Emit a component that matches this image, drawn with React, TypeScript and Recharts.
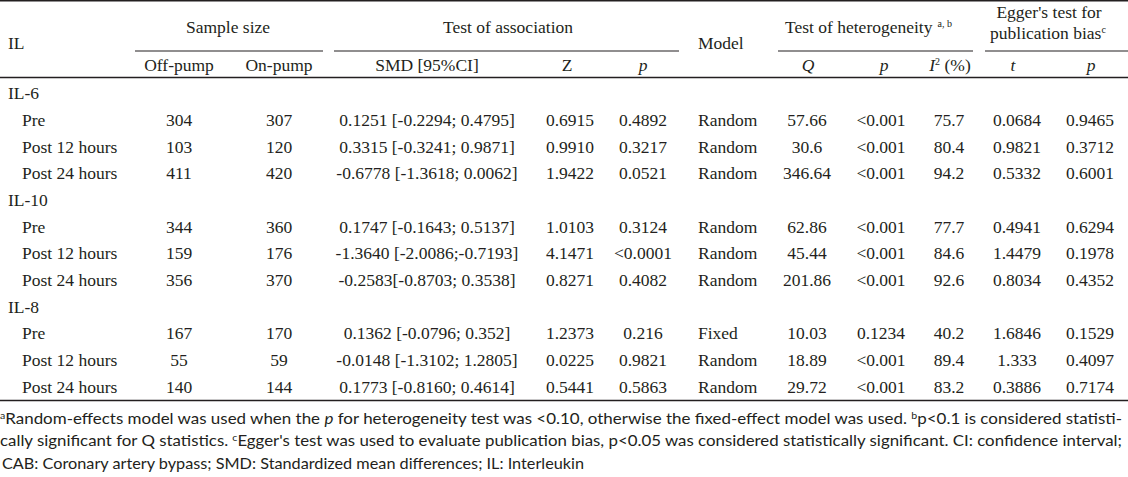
import React from "react";
import { ScatterChart, Scatter, XAxis, YAxis, Customized } from "recharts";

// table rows, top to bottom
const rowLabels = [
  "IL-6", "Pre", "Post 12 hours", "Post 24 hours",
  "IL-10", "Pre", "Post 12 hours", "Post 24 hours",
  "IL-8", "Pre", "Post 12 hours", "Post 24 hours",
];
const groupRows = [true, false, false, false, true, false, false, false, true, false, false, false];

const offPump = ["", "304", "103", "411", "", "344", "159", "356", "", "167", "55", "140"];
const onPump = ["", "307", "120", "420", "", "360", "176", "370", "", "170", "59", "144"];
const smd = [
  "", "0.1251 [-0.2294; 0.4795]", "0.3315 [-0.3241; 0.9871]", "-0.6778 [-1.3618; 0.0062]",
  "", "0.1747 [-0.1643; 0.5137]", "-1.3640 [-2.0086;-0.7193]", "-0.2583[-0.8703; 0.3538]",
  "", "0.1362 [-0.0796; 0.352]", "-0.0148 [-1.3102; 1.2805]", "0.1773 [-0.8160; 0.4614]",
];
const zValues = ["", "0.6915", "0.9910", "1.9422", "", "1.0103", "4.1471", "0.8271", "", "1.2373", "0.0225", "0.5441"];
const pAssoc = ["", "0.4892", "0.3217", "0.0521", "", "0.3124", "<0.0001", "0.4082", "", "0.216", "0.9821", "0.5863"];
const model = ["", "Random", "Random", "Random", "", "Random", "Random", "Random", "", "Fixed", "Random", "Random"];
const qValues = ["", "57.66", "30.6", "346.64", "", "62.86", "45.44", "201.86", "", "10.03", "18.89", "29.72"];
const pHet = ["", "<0.001", "<0.001", "<0.001", "", "<0.001", "<0.001", "<0.001", "", "0.1234", "<0.001", "<0.001"];
const iSquared = ["", "75.7", "80.4", "94.2", "", "77.7", "84.6", "92.6", "", "40.2", "89.4", "83.2"];
const tValues = ["", "0.0684", "0.9821", "0.5332", "", "0.4941", "1.4479", "0.8034", "", "1.6846", "1.333", "0.3886"];
const pEgger = ["", "0.9465", "0.3712", "0.6001", "", "0.6294", "0.1978", "0.4352", "", "0.1529", "0.4097", "0.7174"];

const W = 1128;
const H = 477;
const INK = "#231f20";
const SERIF = "'Liberation Serif', 'Times New Roman', serif";
const SANS = "Lato, 'Open Sans', sans-serif";
const FS = 17.5;
const FN = 16;

const columns = [
  { values: offPump, x: 179, anchor: "middle" },
  { values: onPump, x: 279, anchor: "middle" },
  { values: smd, x: 427, anchor: "middle" },
  { values: zValues, x: 570, anchor: "middle" },
  { values: pAssoc, x: 643, anchor: "middle" },
  { values: model, x: 698, anchor: "start" },
  { values: qValues, x: 807, anchor: "middle" },
  { values: pHet, x: 881, anchor: "middle" },
  { values: iSquared, x: 949, anchor: "middle" },
  { values: tValues, x: 1017, anchor: "middle" },
  { values: pEgger, x: 1090, anchor: "middle" },
];

const cellShape = (anchor: string) => (props: any) => {
  const { cx, cy, payload } = props;
  if (!payload.v) return <g />;
  const indent = payload.indent || 0;
  return (
    <text
      x={cx + indent}
      y={cy + FS * 0.33}
      textAnchor={anchor}
      fontFamily={SERIF}
      fontSize={FS}
      fill={INK}
    >
      {payload.v}
    </text>
  );
};

const Header = () => {
  const t = { fontFamily: SERIF, fontSize: FS, fill: INK } as const;
  const f = { fontFamily: SANS, fontSize: FN, fill: INK } as const;
  const hy = (c: number) => c + FS * 0.33;
  return (
    <g>
      {/* rules */}
      <line x1={0} x2={W} y1={0.75} y2={0.75} stroke={INK} strokeWidth={1.5} />
      <line x1={135} x2={323} y1={51} y2={51} stroke={INK} strokeWidth={1.2} />
      <line x1={334} x2={679} y1={51} y2={51} stroke={INK} strokeWidth={1.2} />
      <line x1={778} x2={973} y1={51} y2={51} stroke={INK} strokeWidth={1.2} />
      <line x1={985} x2={W} y1={51} y2={51} stroke={INK} strokeWidth={1.2} />
      <line x1={0} x2={W} y1={77.5} y2={77.5} stroke={INK} strokeWidth={1.5} />
      <line x1={0} x2={W} y1={400.5} y2={400.5} stroke={INK} strokeWidth={1.5} />

      {/* header row 1 */}
      <text {...t} x={8} y={hy(43)}>IL</text>
      <text {...t} x={228} y={hy(27)} textAnchor="middle">Sample size</text>
      <text {...t} x={508} y={hy(27)} textAnchor="middle">Test of association</text>
      <text {...t} x={698} y={hy(43)}>Model</text>
      <text {...t} x={785} y={hy(27)}>
        Test of heterogeneity
        <tspan fontSize={10} dx={5} dy={-6}>a, b</tspan>
      </text>
      <text {...t} x={1049} y={hy(12)} textAnchor="middle">Egger's test for</text>
      <text {...t} x={1048} y={hy(33)} textAnchor="middle">
        publication bias
        <tspan fontSize={10} dy={-6}>c</tspan>
      </text>

      {/* header row 2 */}
      <text {...t} x={179} y={hy(65)} textAnchor="middle">Off-pump</text>
      <text {...t} x={279} y={hy(65)} textAnchor="middle">On-pump</text>
      <text {...t} x={427} y={hy(65)} textAnchor="middle">SMD [95%CI]</text>
      <text {...t} x={567} y={hy(65)} textAnchor="middle">Z</text>
      <text {...t} x={643} y={hy(65)} textAnchor="middle" fontStyle="italic">p</text>
      <text {...t} x={808} y={hy(65)} textAnchor="middle" fontStyle="italic">Q</text>
      <text {...t} x={884} y={hy(65)} textAnchor="middle" fontStyle="italic">p</text>
      <text {...t} x={950} y={hy(65)} textAnchor="middle">
        <tspan fontStyle="italic">I</tspan>
        <tspan fontSize={10} dy={-6}>2</tspan>
        <tspan dy={6}> (%)</tspan>
      </text>
      <text {...t} x={1013} y={hy(65)} textAnchor="middle" fontStyle="italic">t</text>
      <text {...t} x={1091} y={hy(65)} textAnchor="middle" fontStyle="italic">p</text>

      {/* footnotes */}
      <text {...f} x={0} y={424} textLength={1122} lengthAdjust="spacingAndGlyphs">
        <tspan fontSize={10} dy={-5}>a</tspan>
        <tspan dy={5}>Random-effects model was used when the </tspan>
        <tspan fontStyle="italic">p</tspan>
        <tspan> for heterogeneity test was &lt;0.10, otherwise the fixed-effect model was used. </tspan>
        <tspan fontSize={10} dy={-5}>b</tspan>
        <tspan dy={5}>p&lt;0.1 is considered statisti-</tspan>
      </text>
      <text {...f} x={0} y={446} textLength={1122} lengthAdjust="spacingAndGlyphs">
        cally significant for Q statistics.
        <tspan fontSize={10} dx={4} dy={-5}>c</tspan>
        <tspan dy={5}>Egger's test was used to evaluate publication bias, p&lt;0.05 was considered statistically significant. CI: confidence interval;</tspan>
      </text>
      <text {...f} x={2} y={469} textLength={582} lengthAdjust="spacingAndGlyphs">
        CAB: Coronary artery bypass; SMD: Standardized mean differences; IL: Interleukin
      </text>
    </g>
  );
};

export default function App() {
  const labelData = rowLabels.map((name, i) => ({
    x: 8,
    y: i,
    v: name,
    indent: groupRows[i] ? 0 : 14,
  }));

  return (
    <div style={{ position: "absolute", left: 0, top: 0, width: W, height: H, background: "#fff" }}>
      <ScatterChart width={W} height={H} margin={{ top: 80, right: 0, bottom: H - 400.4, left: 0 }}>
        <XAxis type="number" dataKey="x" domain={[0, W]} hide />
        <YAxis type="number" dataKey="y" domain={[-0.5, 11.5]} reversed hide />
        <Customized component={<Header />} />
        <Scatter data={labelData} shape={cellShape("start")} isAnimationActive={false} />
        {columns.map((col, ci) => (
          <Scatter
            key={ci}
            data={col.values.map((v, i) => ({ x: col.x, y: i, v }))}
            shape={cellShape(col.anchor)}
            isAnimationActive={false}
          />
        ))}
      </ScatterChart>
    </div>
  );
}
